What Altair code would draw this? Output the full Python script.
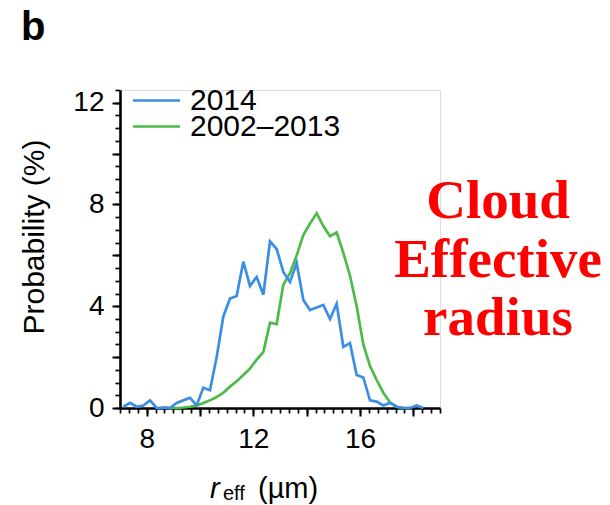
import altair as alt
import pandas as pd

# ---- data (bin centres, µm) ----
r_2014 = [7.125, 7.375, 7.625, 7.875, 8.125, 8.375, 8.625, 8.875, 9.125, 9.375,
          9.625, 9.875, 10.125, 10.375, 10.625, 10.875, 11.125, 11.375, 11.625, 11.875,
          12.125, 12.375, 12.625, 12.875, 13.125, 13.375, 13.625, 13.875, 14.125, 14.375,
          14.625, 14.875, 15.125, 15.375, 15.625, 15.875, 16.125, 16.375, 16.625, 16.875,
          17.125, 17.375, 17.625, 17.875, 18.125, 18.375]
p_2014 = [0.05, 0.2, 0.05, 0.1, 0.3, 0.0, 0.02, 0.0, 0.2, 0.3,
          0.4, 0.1, 0.8, 0.7, 2.0, 3.6, 4.3, 4.4, 5.75, 4.8,
          5.15, 4.45, 6.55, 6.25, 5.35, 4.95, 5.7, 4.25, 3.85, 3.95,
          4.05, 3.5, 4.1, 2.4, 2.55, 1.3, 1.2, 0.3, 0.25, 0.1,
          0.2, 0.05, 0.0, 0.0, 0.1, 0.0]

r_clim = [8.625, 8.875, 9.125, 9.375, 9.625, 9.875, 10.125, 10.375, 10.625, 10.875,
          11.125, 11.375, 11.625, 11.875, 12.125, 12.375, 12.625, 12.875, 13.125, 13.375,
          13.625, 13.875, 14.125, 14.375, 14.625, 14.875, 15.125, 15.375, 15.625, 15.875,
          16.125, 16.375, 16.625, 16.875, 17.125, 17.375, 17.625, 17.875]
p_clim = [0.03, 0.0, 0.0, 0.02, 0.05, 0.1, 0.2, 0.3, 0.43, 0.6,
          0.84, 1.05, 1.3, 1.55, 1.9, 2.2, 3.35, 3.3, 4.85, 5.3,
          6.0, 6.8, 7.25, 7.65, 7.15, 6.75, 6.9, 6.1, 5.2, 4.0,
          2.5, 1.65, 1.1, 0.6, 0.22, 0.05, 0.0, 0.0]

series_names = ["2014", "2002\u20132013"]
series_colors = ["#3a8ee6", "#4cbb47"]

x_major = [8, 10, 12, 14, 16, 18]
y_major = [0, 2, 4, 6, 8, 10, 12]
x_minor = [7 + i / 3 for i in range(37)]
y_minor = [i * 0.5 for i in range(26)]

df_2014 = pd.DataFrame({"r": r_2014, "p": p_2014, "series": series_names[0]})
df_clim = pd.DataFrame({"r": r_clim, "p": p_clim, "series": series_names[1]})
df_all = pd.concat([df_clim, df_2014], ignore_index=True)

FONT = "Liberation Sans"
X_SCALE = alt.Scale(domain=[7, 19], nice=False, zero=False)
Y_SCALE = alt.Scale(domain=[0, 12.5], nice=False)
COLOR = alt.Color("series:N", scale=alt.Scale(domain=series_names, range=series_colors), legend=None)

major_x_axis = alt.Axis(values=x_major, labelExpr="datum.value % 4 == 0 ? datum.label : ''",
                        orient="bottom", title=None, grid=False, tickSize=8, tickWidth=2,
                        tickColor="black", domainColor="black", domainWidth=2.6,
                        labelFont=FONT, labelFontSize=28, labelColor="black",
                        labelPadding=9, labelOverlap=False)
major_y_axis = alt.Axis(values=y_major, labelExpr="datum.value % 4 == 0 ? datum.label : ''",
                        orient="left", title=None, grid=False, tickSize=8, tickWidth=2,
                        tickColor="black", domainColor="black", domainWidth=2.6,
                        labelFont=FONT, labelFontSize=28, labelColor="black",
                        labelPadding=8, labelOverlap=False)
minor_x_axis = alt.Axis(values=x_minor, orient="bottom", title=None, grid=False, labels=False,
                        domain=False, tickSize=5, tickWidth=1.7, tickColor="black")
minor_y_axis = alt.Axis(values=y_minor, orient="left", title=None, grid=False, labels=False,
                        domain=False, tickSize=5, tickWidth=1.7, tickColor="black")

minor = alt.Chart(df_all).mark_line(opacity=0).encode(
    x=alt.X("r:Q", scale=X_SCALE, axis=minor_x_axis),
    y=alt.Y("p:Q", scale=Y_SCALE, axis=minor_y_axis),
)

line_clim = alt.Chart(df_clim).mark_line(strokeWidth=2.7).encode(
    x=alt.X("r:Q", scale=X_SCALE, axis=major_x_axis),
    y=alt.Y("p:Q", scale=Y_SCALE, axis=major_y_axis),
    color=COLOR,
)
line_2014 = alt.Chart(df_2014).mark_line(strokeWidth=2.7).encode(
    x=alt.X("r:Q", scale=X_SCALE, axis=None),
    y=alt.Y("p:Q", scale=Y_SCALE, axis=None),
    color=COLOR,
)

one = pd.DataFrame({"a": [0]})


def label(text, x, y, size, **kw):
    return alt.Chart(one).mark_text(text=text, fontSize=size, font=kw.pop("font", FONT),
                                    align=kw.pop("align", "left"), baseline="alphabetic",
                                    color=kw.pop("color", "black"), **kw).encode(
        x=alt.value(x), y=alt.value(y))


# legend (manual, top-left inside the plot)
leg_lines = [
    alt.Chart(one).mark_rule(color=series_colors[0], strokeWidth=2.7).encode(
        x=alt.value(13), x2=alt.value(60), y=alt.value(10.5)),
    alt.Chart(one).mark_rule(color=series_colors[1], strokeWidth=2.7).encode(
        x=alt.value(13), x2=alt.value(60), y=alt.value(36.5)),
]
leg_text = [
    label(series_names[0], 70, 20, 30),
    label(series_names[1], 70, 46, 30),
]

panel = label("b", -99, -50, 40, fontWeight="bold")
ytitle = label("Probability (%)", -76, 147, 30, align="center", angle=270)
xt_r = label("r", 90, 408, 29, fontStyle="italic")
xt_eff = label("eff", 103, 410, 20)
xt_unit = label("(\u00b5m)", 138, 408, 29)

SERIF = dict(font="Liberation Serif", fontWeight="bold", align="center", color="#ff0000")
red = [
    label("Cloud", 378, 128, 55, **SERIF),
    label("Effective", 378, 187, 55, **SERIF),
    label("radius", 378, 245, 55, **SERIF),
]

chart = alt.layer(
    minor, line_clim, line_2014, *leg_lines, *leg_text, panel, ytitle, xt_r, xt_eff, xt_unit, *red
).resolve_axis(x="independent", y="independent").properties(
    width=320, height=318,
    autosize=alt.AutoSizeParams(type="none"),
    padding={"left": 120, "top": 90, "right": 170, "bottom": 97},
).configure_view(stroke=None).configure(background="white")

chart.save("out.html", embed_options={"renderer": "svg", "actions": False})
